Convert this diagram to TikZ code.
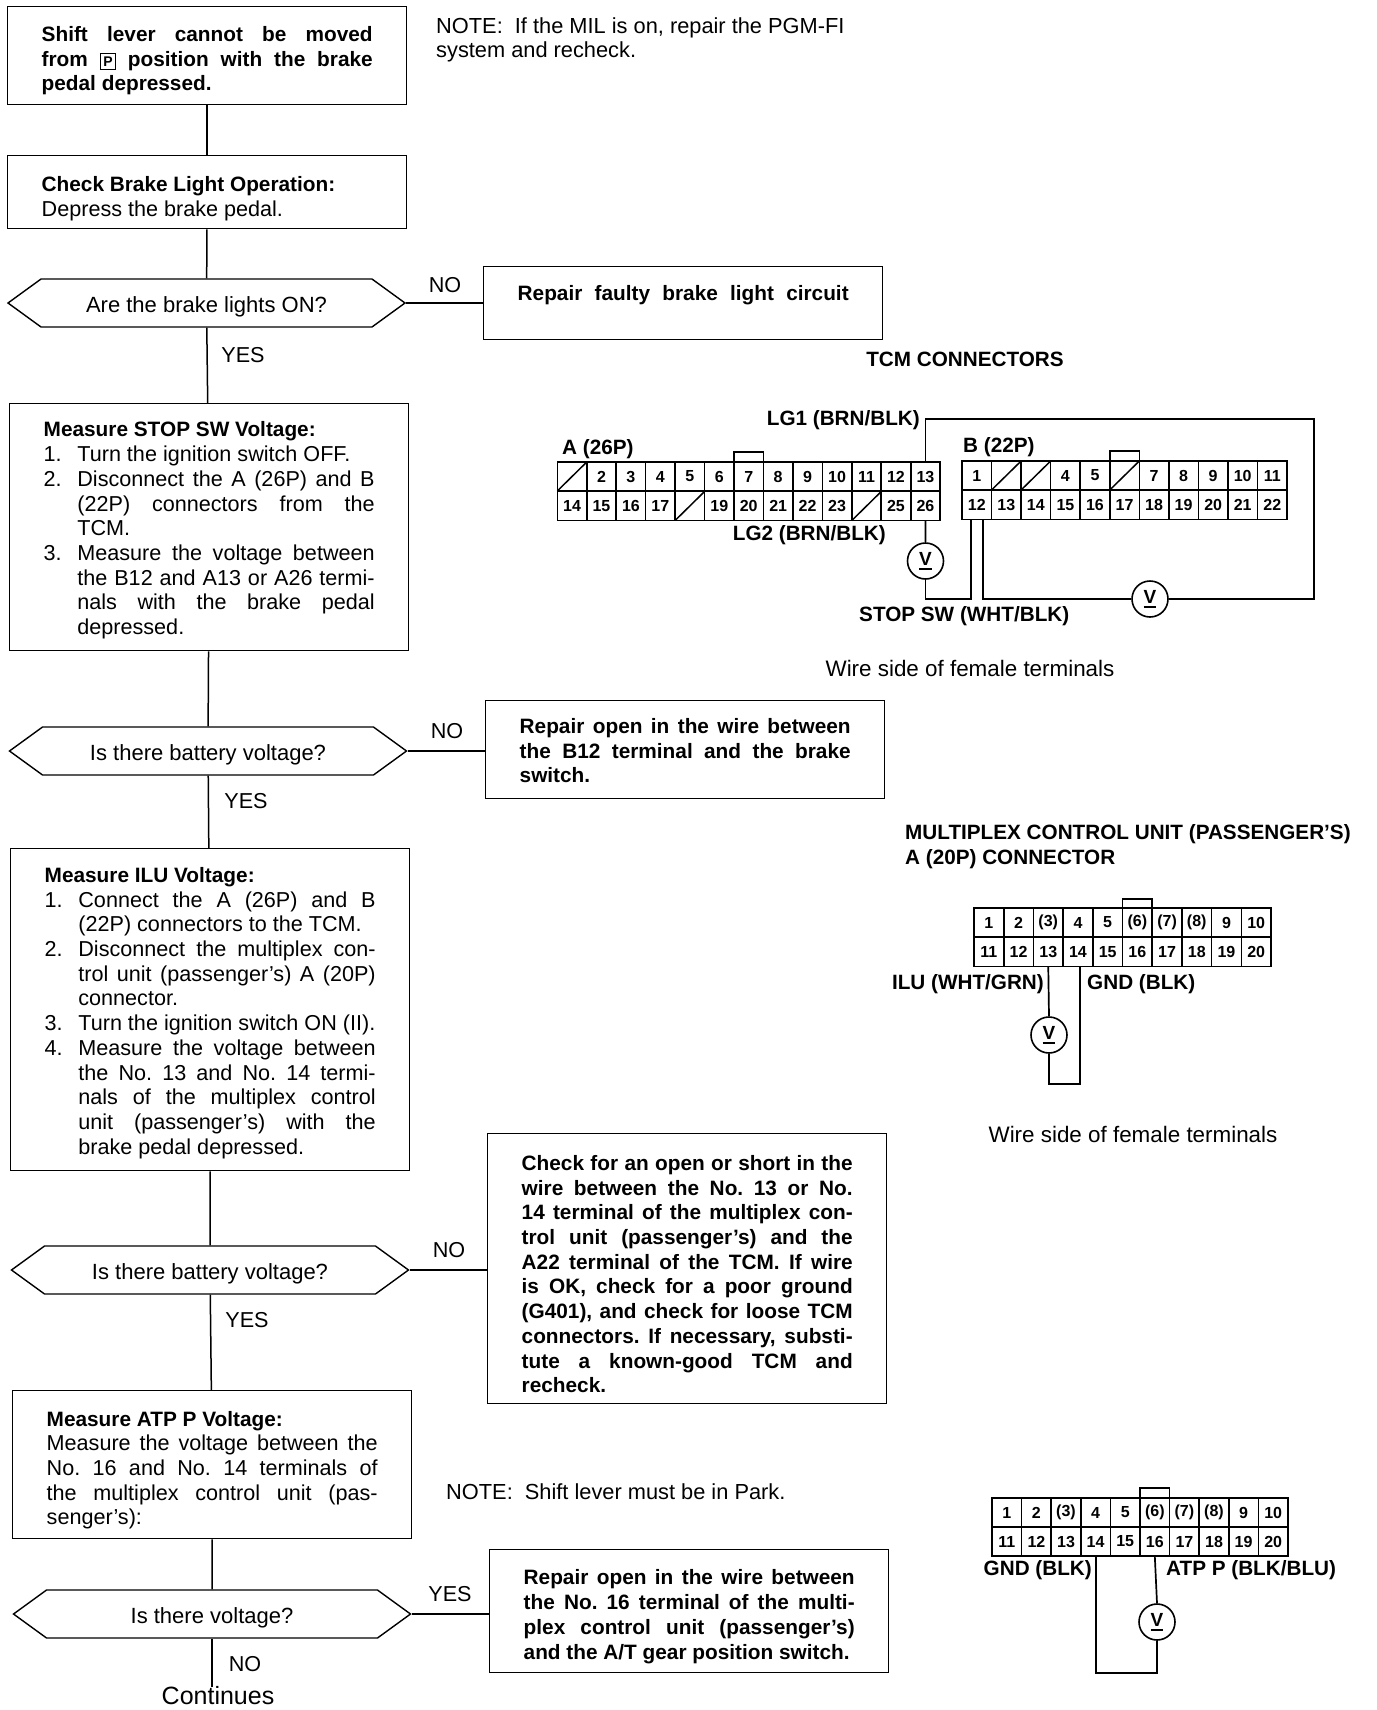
\documentclass[tikz,border=0pt]{standalone}
\usepackage{fontspec}
\setmainfont{Liberation Sans}
\usetikzlibrary{shapes.symbols}
\tolerance=10000
\hbadness=10000
\hfuzz=4pt
\hyphenpenalty=10000
\frenchspacing
\newcommand{\bodyfont}{\fontsize{21.6}{24.7}\selectfont}
\newcommand{\headfont}{\fontsize{20.8}{24.7}\selectfont\bfseries}
\newcommand{\numitem}[2]{\par\noindent\hangindent=33.7pt\hangafter=1\hbox to 33.7pt{#1.\hss}#2\par}
\newcommand{\keypos}[1]{\smash{\fboxsep=2.5pt\fboxrule=1pt\fbox{\fontsize{14}{14}\selectfont #1}}}
\newcommand{\topgap}[1]{\rule{0pt}{#1pt}}
\newcommand{\dcvolt}{\vtop{\hbox{V}\kern3pt\hrule height 1.6pt}}
\begin{document}
\begin{tikzpicture}[
        x=1pt, y=-1pt,
        font=\bodyfont,
        stepbox/.style={draw, line width=1.4pt, anchor=north west, text width=331pt,
                        inner xsep=34pt, inner ysep=0pt, align=justify},
        decide/.style={draw, line width=1.4pt, signal, signal to=east and west,
                       signal pointer angle=72, minimum width=397pt, minimum height=48pt,
                       inner sep=0pt, text height=20pt, text depth=2pt,
                       font=\fontsize{22}{24}\selectfont},
        answer/.style={inner sep=0pt},
        note/.style={anchor=west, inner sep=0pt, align=left, font=\fontsize{21.8}{24.7}\selectfont},
        wirelabel/.style={inner sep=0pt, font=\fontsize{20.7}{22}\selectfont\bfseries},
        pincell/.style={draw, line width=1.6pt, inner sep=0pt, outer sep=0pt,
                        minimum height=29pt, font=\fontsize{16}{16}\selectfont\bfseries},
        meter/.style={draw, circle, line width=1.6pt, minimum size=36pt, inner sep=0pt,
                      font=\fontsize{19}{19}\selectfont\bfseries},
        line/.style={draw, line width=1.5pt},
        wire/.style={draw, line width=1.7pt},
    ]
    \useasboundingbox (0,0) rectangle (1376,1710);

    % flow on the left
    \node[stepbox, minimum height=98pt, font=\headfont] (start) at (7,6)
        {\topgap{25.4}Shift lever cannot be moved\linebreak
         from \keypos{P} position with the brake\linebreak
         pedal depressed.};
    \node[stepbox, minimum height=73pt] (brake) at (7,155)
        {\topgap{27.6}{\headfont Check Brake Light Operation:}\par Depress the brake pedal.};
    \node[decide] (lights) at (206.5,303) {Are the brake lights ON?};
    \node[stepbox, minimum height=247pt] (stopsw) at (9,403)
        {\topgap{21.6}{\headfont Measure STOP SW Voltage:}
         \numitem{1}{Turn the ignition switch OFF.}
         \numitem{2}{Disconnect the A (26P) and B\linebreak
            (22P) connectors from the\linebreak TCM.}
         \numitem{3}{Measure the voltage between\linebreak
            the B12 and A13 or A26 termi-\linebreak
            nals with the brake pedal\linebreak depressed.}};
    \node[decide] (batt1) at (208,751) {Is there battery voltage?};
    \node[stepbox, minimum height=322pt] (ilu) at (10,848)
        {\topgap{21.6}{\headfont Measure ILU Voltage:}
         \numitem{1}{Connect the A (26P) and B\linebreak
            (22P) connectors to the TCM.}
         \numitem{2}{Disconnect the multiplex con-\linebreak
            trol unit (passenger's) A (20P)\linebreak connector.}
         \numitem{3}{Turn the ignition switch ON (II).}
         \numitem{4}{Measure the voltage between\linebreak
            the No. 13 and No. 14 termi-\linebreak
            nals of the multiplex control\linebreak
            unit (passenger's) with the\linebreak
            brake pedal depressed.}};
    \node[decide] (batt2) at (210,1270) {Is there battery voltage?};
    \node[stepbox, minimum height=148pt] (atp) at (12,1390)
        {\topgap{26}{\headfont Measure ATP P Voltage:}\par
         Measure the voltage between the\linebreak
         No. 16 and No. 14 terminals of\linebreak
         the multiplex control unit (pas-\linebreak
         senger's):};
    \node[decide] (volt) at (212,1614) {Is there voltage?};
    \node[answer, font=\fontsize{25}{25}\selectfont] (cont) at (218,1696) {Continues};

    \draw[line] (start) -- (brake);
    \draw[line] (brake) -- (lights);
    \draw[line] (lights) -- (stopsw);
    \draw[line] (stopsw) -- (batt1);
    \draw[line] (batt1) -- (ilu);
    \draw[line] (ilu) -- (batt2);
    \draw[line] (batt2) -- (atp);
    \draw[line] (atp) -- (volt);
    \draw[line] (volt.south) -- (volt.south |- cont.north);

    % repair boxes on the right
    \node[stepbox, minimum height=73pt, font=\headfont] (fixlight) at (483,266)
        {\rule[-21pt]{0pt}{0pt}\parfillskip=0pt Repair faulty brake light circuit\par};
    \node[stepbox, minimum height=98pt, font=\headfont] (fixopen) at (485,700)
        {\topgap{17}Repair open in the wire between\linebreak
         the B12 terminal and the brake\linebreak switch.};
    \node[stepbox, minimum height=270pt, font=\headfont] (fixshort) at (487,1133)
        {\topgap{26}Check for an open or short in the\linebreak
         wire between the No. 13 or No.\linebreak
         14 terminal of the multiplex con-\linebreak
         trol unit (passenger's) and the\linebreak
         A22 terminal of the TCM. If wire\linebreak
         is OK, check for a poor ground\linebreak
         (G401), and check for loose TCM\linebreak
         connectors. If necessary, substi-\linebreak
         tute a known-good TCM and\linebreak recheck.};
    \node[stepbox, minimum height=123pt, font=\headfont] (fixatp) at (489,1549)
        {\topgap{26}Repair open in the wire between\linebreak
         the No. 16 terminal of the multi-\linebreak
         plex control unit (passenger's)\linebreak
         and the A/T gear position switch.};

    \draw[line] (lights.east) -- (lights.east -| fixlight.west);
    \draw[line] (batt1.east) -- (batt1.east -| fixopen.west);
    \draw[line] (batt2.east) -- (batt2.east -| fixshort.west);
    \draw[line] (volt.east) -- (volt.east -| fixatp.west);

    \node[answer] (no1) at (445,285) {NO};
    \node[answer] (yes1) at (243,355) {YES};
    \node[answer] (no2) at (447,731) {NO};
    \node[answer] (yes2) at (246,801) {YES};
    \node[answer] (no3) at (449,1250) {NO};
    \node[answer] (yes3) at (247,1320) {YES};
    \node[answer] (yes4) at (450,1594) {YES};
    \node[answer] (no4) at (245,1664) {NO};

    \node[note] (note1) at (436,40) {NOTE:\ \ If the MIL is on, repair the PGM-FI\\system and recheck.};
    \node[note] (note2) at (446,1492) {NOTE:\ \ Shift lever must be in Park.};

    % TCM connectors
    \node[wirelabel] (tcmtitle) at (965,359) {TCM CONNECTORS};
    \node[wirelabel, anchor=west] (alabel) at (562,449) {A (26P)};
    \node[wirelabel, anchor=west] (blabel) at (963,447) {B (22P)};
    \foreach \t [count=\n] in {{},2,3,4,5,6,7,8,9,10,11,12,13}
        \node[pincell, minimum width=29.45pt] (a\n) at ({557.3+(\n-0.5)*29.45},476.5) {\t};
    \foreach \t [count=\n from 14] in {14,15,16,17,{},19,20,21,22,23,{},25,26}
        \node[pincell, minimum width=29.45pt] (a\n) at ({557.3+(\n-13.5)*29.45},506) {\t};
    \foreach \t [count=\n] in {1,{},{},4,5,{},7,8,9,10,11}
        \node[pincell, minimum width=29.55pt] (b\n) at ({962+(\n-0.5)*29.55},475.5) {\t};
    \foreach \t [count=\n from 12] in {12,13,14,15,16,17,18,19,20,21,22}
        \node[pincell, minimum width=29.55pt] (b\n) at ({962+(\n-11.5)*29.55},505) {\t};
    \foreach \c in {a1,a18,a24,b2,b3,b6}
        \draw[line] (\c.south west) -- (\c.north east);
    \draw[line] (a7.north west) -- ++(0,-10) -| (a7.north east);
    \draw[line] (b6.north west) -- ++(0,-10) -| (b6.north east);

    \node[wirelabel, anchor=east] (lgone) at (920,420) {LG1 (BRN/BLK)};
    \node[wirelabel, anchor=east] (lgtwo) at (886,535) {LG2 (BRN/BLK)};
    \node[wirelabel, anchor=west] (stopwire) at (859,616) {STOP SW (WHT/BLK)};
    \node[meter] (va) at (925.5,561) {\dcvolt};
    \node[meter] (vb) at (1150,599) {\dcvolt};
    \coordinate (topright) at (1314,419);

    \draw[wire] (a13.north) |- (topright) |- (vb.east);
    \draw[wire] (vb.west) -| ([xshift=6pt]b12.south);
    \draw[wire] (a26.south) -- (va.north);
    \draw[wire] (va.south) |- ([xshift=-6pt]b12.south |- vb.west) -- ([xshift=-6pt]b12.south);
    \node[note, anchor=center, font=\fontsize{22.4}{24}\selectfont] (side1) at (970,668) {Wire side of female terminals};

    % multiplex control unit
    \node[wirelabel, anchor=west, align=left, font=\fontsize{20.7}{25}\selectfont\bfseries] (muxtitle) at (905,847)
        {MULTIPLEX CONTROL UNIT (PASSENGER'S)\\A (20P) CONNECTOR};
    \foreach \t [count=\n] in {1,2,(3),4,5,(6),(7),(8),9,10}
        \node[pincell, minimum width=29.7pt] (c\n) at ({974+(\n-0.5)*29.7},922.5) {\t};
    \foreach \t [count=\n from 11] in {11,12,13,14,15,16,17,18,19,20}
        \node[pincell, minimum width=29.7pt] (c\n) at ({974+(\n-10.5)*29.7},952) {\t};
    \draw[line] (c6.north west) -- ++(0,-9) -| (c6.north east);
    \node[wirelabel, anchor=east] (ilulabel) at (1044,984) {ILU (WHT/GRN)};
    \node[wirelabel, anchor=west] (gndone) at (1087,984) {GND (BLK)};
    \node[meter] (vc) at (1049,1035) {\dcvolt};
    \coordinate (cbottom) at (1080,1084);
    \draw[wire] (c13.south) -- (vc.north);
    \draw[wire] (vc.south) |- (cbottom) -- (cbottom |- c14.south);
    \node[note, anchor=center, font=\fontsize{22.4}{24}\selectfont] (side2) at (1133,1134) {Wire side of female terminals};

    % third connector
    \foreach \t [count=\n] in {1,2,(3),4,5,(6),(7),(8),9,10}
        \node[pincell, minimum width=29.6pt] (d\n) at ({992+(\n-0.5)*29.6},1512.5) {\t};
    \foreach \t [count=\n from 11] in {11,12,13,14,15,16,17,18,19,20}
        \node[pincell, minimum width=29.6pt] (d\n) at ({992+(\n-10.5)*29.6},1541.5) {\t};
    \draw[line] (d6.north west) -- ++(0,-10) -| (d6.north east);
    \node[wirelabel, anchor=east] (gndtwo) at (1092,1570) {GND (BLK)};
    \node[wirelabel, anchor=west] (atplabel) at (1166,1570) {ATP P (BLK/BLU)};
    \node[meter] (vd) at (1157,1622) {\dcvolt};
    \coordinate (dbottom) at (1096,1673);
    \draw[wire] (d16.south) -- (vd.north);
    \draw[wire] (vd.south) |- (dbottom) -- (dbottom |- d14.south);
\end{tikzpicture}
\end{document}
